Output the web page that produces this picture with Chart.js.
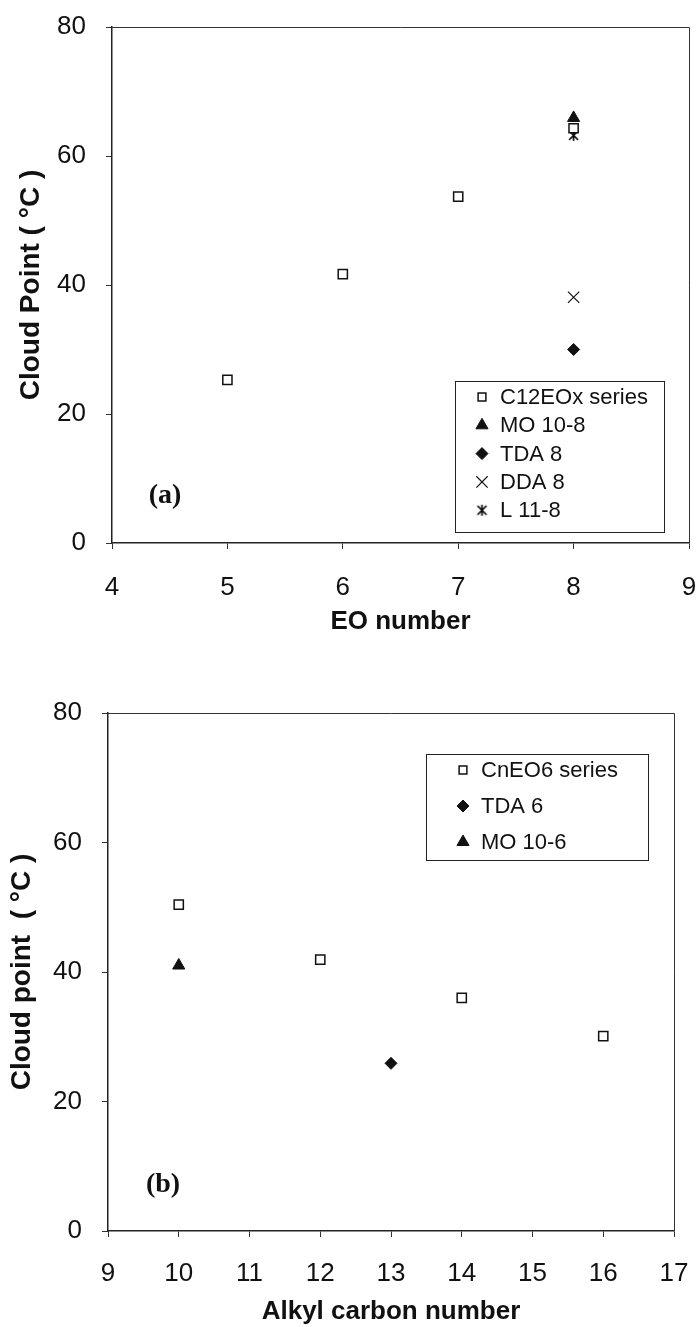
<!DOCTYPE html>
<html>
<head>
<meta charset="utf-8">
<script src="https://cdn.jsdelivr.net/npm/chart.js@4.4.1/dist/chart.umd.min.js"></script>
<style>
  body { margin: 0; background: #fff; }
  #wrapA { position: absolute; left: 0; top: 0; width: 700px; height: 660px; }
  #wrapB { position: absolute; left: 0; top: 670px; width: 700px; height: 657px; }
</style>
</head>
<body>
<div id="wrapA"><canvas id="chartA" width="700" height="660"></canvas></div>
<div id="wrapB"><canvas id="chartB" width="700" height="657"></canvas></div>
<script>
// (a) cloud point vs EO number
var eoTicks = [4, 5, 6, 7, 8, 9];
var cloudTicks = [0, 20, 40, 60, 80];
var c12eoxEO = [5, 6, 7, 8];
var c12eoxCP = [25.3, 41.7, 53.7, 64.3];
var mo108EO = [8];
var mo108CP = [65.9];
var tda8EO = [8];
var tda8CP = [30.0];
var dda8EO = [8];
var dda8CP = [38.1];
var l118EO = [8];
var l118CP = [63.2];

// (b) cloud point vs alkyl carbon number
var carbonTicks = [9, 10, 11, 12, 13, 14, 15, 16, 17];
var cneo6Carbon = [10, 12, 14, 16];
var cneo6CP = [50.4, 41.9, 36.0, 30.1];
var tda6Carbon = [13];
var tda6CP = [25.9];
var mo106Carbon = [10];
var mo106CP = [41.0];

function toPoints(xs, ys) {
  return xs.map(function(x, i) { return { x: x, y: ys[i] }; });
}

// excel style star marker: an X with a vertical bar
function makeStar() {
  var c = document.createElement('canvas');
  c.width = 13; c.height = 13;
  var g = c.getContext('2d');
  g.strokeStyle = '#000';
  g.lineWidth = 1.6;
  g.beginPath();
  g.moveTo(2, 2); g.lineTo(11, 11);
  g.moveTo(11, 2); g.lineTo(2, 11);
  g.moveTo(6.5, 1); g.lineTo(6.5, 12);
  g.stroke();
  return c;
}
var starMarker = makeStar();

var panelPlugin = {
  id: 'panel',
  afterDraw: function(chart, args, opts) {
    var ctx = chart.ctx;
    var a = chart.chartArea;
    ctx.save();
    // top and right edges of the plot frame
    ctx.strokeStyle = '#333';
    ctx.lineWidth = 1;
    ctx.beginPath();
    ctx.moveTo(a.left, a.top + 0.5);
    ctx.lineTo(a.right + 0.5, a.top + 0.5);
    ctx.lineTo(a.right + 0.5, a.bottom);
    ctx.stroke();

    // panel tag
    ctx.font = 'bold 28px "Liberation Serif", "Times New Roman", serif';
    ctx.fillStyle = '#111';
    ctx.textAlign = 'center';
    ctx.textBaseline = 'middle';
    ctx.fillText(opts.tag, opts.tagX, opts.tagY);

    // legend box
    var b = opts.box;
    ctx.strokeStyle = '#222';
    ctx.lineWidth = 1;
    ctx.strokeRect(b.x + 0.5, b.y + 0.5, b.w, b.h);
    chart.data.datasets.forEach(function(ds, i) {
      var y = opts.firstY + i * opts.step;
      ctx.fillStyle = ds.backgroundColor;
      ctx.strokeStyle = ds.borderColor;
      ctx.lineWidth = ds.borderWidth;
      Chart.helpers.drawPoint(ctx, {
        pointStyle: ds.pointStyle,
        radius: ds.legendRadius || ds.pointRadius,
        borderWidth: ds.borderWidth,
        rotation: 0
      }, opts.markerX, y);
      ctx.fillStyle = '#111';
      ctx.textAlign = 'left';
      ctx.textBaseline = 'middle';
      ctx.font = '22px "Liberation Sans", Arial, sans-serif';
      ctx.fillText(ds.label, opts.textX, y + 1);
    });
    ctx.restore();
  }
};

var tickFont = { family: '"Liberation Sans", Arial, sans-serif', size: 26 };
var titleFont = { family: '"Liberation Sans", Arial, sans-serif', size: 26, weight: 'bold' };

function squareSet(label, pts) {
  return { label: label, data: pts, pointStyle: 'rect', pointRadius: 6.5, legendRadius: 5.5,
    backgroundColor: '#fff', borderColor: '#111', borderWidth: 1.5 };
}
function filledSet(label, pts, style, r) {
  return { label: label, data: pts, pointStyle: style, pointRadius: r,
    backgroundColor: '#111', borderColor: '#111', borderWidth: 1 };
}

function axes(xMin, xMax, xTitle, yTitle, yWidth, xHeight, xTickPad, yTitlePad, xTitlePad) {
  return {
    x: {
      type: 'linear', min: xMin, max: xMax,
      ticks: { stepSize: 1, color: '#111', font: tickFont, padding: xTickPad },
      grid: { drawOnChartArea: false, drawTicks: true, tickLength: 6, tickColor: '#333' },
      border: { color: '#222', width: 1.5 },
      title: { display: true, text: xTitle, color: '#111', font: titleFont, padding: { top: 0, bottom: xTitlePad } },
      afterFit: function(s) {
        s.height = xHeight;
        s.paddingLeft = 0; s.paddingRight = 0;
      }
    },
    y: {
      type: 'linear', min: 0, max: 80,
      ticks: { stepSize: 20, color: '#111', font: tickFont, padding: 20 },
      grid: { drawOnChartArea: false, drawTicks: true, tickLength: 6, tickColor: '#333' },
      border: { color: '#222', width: 1.5 },
      title: { display: true, text: yTitle, color: '#111',
        font: { family: titleFont.family, size: 28, weight: 'bold' }, padding: { top: yTitlePad, bottom: 0 } },
      afterFit: function(s) {
        s.width = yWidth;
        s.paddingTop = 0; s.paddingBottom = 0;
      }
    }
  };
}

var chartA = new Chart(document.getElementById('chartA'), {
  type: 'scatter',
  data: {
    datasets: [
      squareSet('C12EOx series', toPoints(c12eoxEO, c12eoxCP)),
      filledSet('MO 10-8', toPoints(mo108EO, mo108CP), 'triangle', 7),
      filledSet('TDA 8', toPoints(tda8EO, tda8CP), 'rectRot', 6),
      { label: 'DDA 8', data: toPoints(dda8EO, dda8CP), pointStyle: 'crossRot', pointRadius: 8,
        backgroundColor: '#111', borderColor: '#111', borderWidth: 1.2 },
      { label: 'L 11-8', data: toPoints(l118EO, l118CP), pointStyle: starMarker, pointRadius: 6,
        backgroundColor: '#111', borderColor: '#111', borderWidth: 1 }
    ]
  },
  options: {
    responsive: false,
    animation: false,
    layout: { padding: { left: 0, right: 11, top: 27, bottom: 0 } },
    scales: axes(4, 9, 'EO number', 'Cloud Point ( °C )', 112, 117, 23, 14, 23),
    plugins: {
      legend: { display: false },
      tooltip: { enabled: false },
      panel: { tag: '(a)', tagX: 165, tagY: 496,
        box: { x: 455, y: 381, w: 209, h: 151 },
        markerX: 482, textX: 500, firstY: 397, step: 28.3 }
    }
  },
  plugins: [panelPlugin]
});

var chartB = new Chart(document.getElementById('chartB'), {
  type: 'scatter',
  data: {
    datasets: [
      squareSet('CnEO6 series', toPoints(cneo6Carbon, cneo6CP)),
      filledSet('TDA 6', toPoints(tda6Carbon, tda6CP), 'rectRot', 6),
      filledSet('MO 10-6', toPoints(mo106Carbon, mo106CP), 'triangle', 7)
    ]
  },
  options: {
    responsive: false,
    animation: false,
    layout: { padding: { left: 0, right: 26, top: 43, bottom: 0 } },
    scales: axes(9, 17, 'Alkyl carbon number', 'Cloud point  ( °C )', 108, 96, 21, 5, 0),
    plugins: {
      legend: { display: false },
      tooltip: { enabled: false },
      panel: { tag: '(b)', tagX: 163, tagY: 515,
        box: { x: 426, y: 84, w: 222, h: 106 },
        markerX: 463, textX: 481, firstY: 100, step: 36 }
    }
  },
  plugins: [panelPlugin]
});
</script>
</body>
</html>
